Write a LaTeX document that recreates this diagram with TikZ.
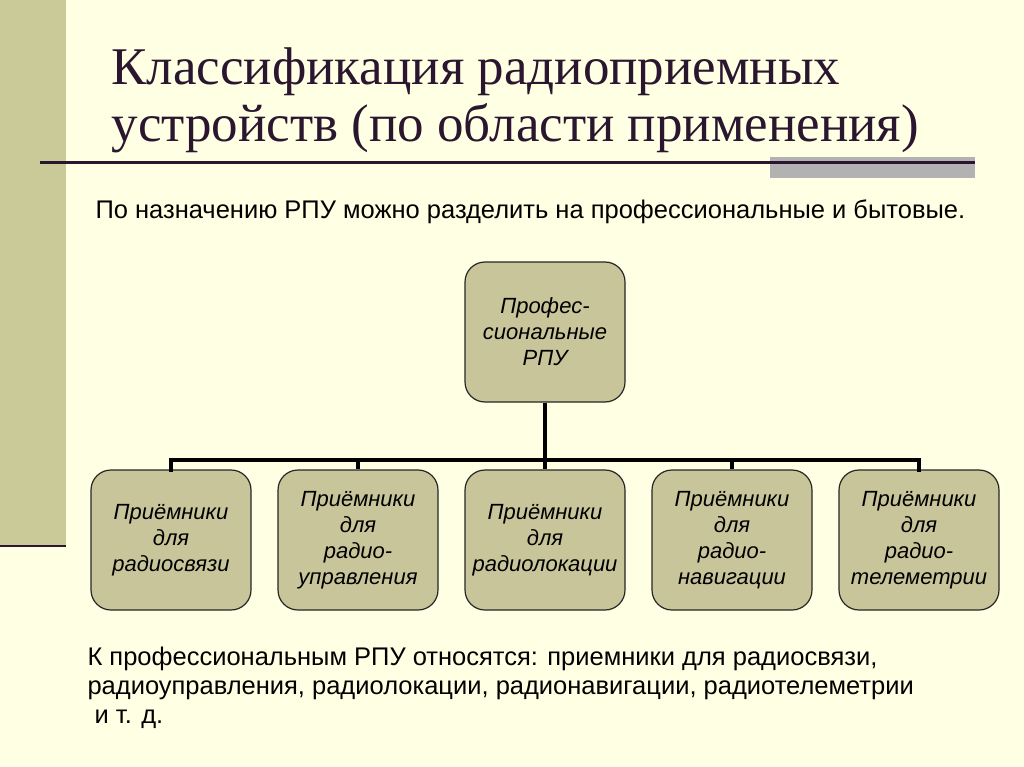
\documentclass[tikz,border=0pt]{standalone}
\usepackage{fontspec}
\setmainfont{Liberation Serif}
\newfontfamily\arial{Liberation Sans}
\begin{document}
\begin{tikzpicture}[x=1pt,y=-1pt,
  box/.style={draw=black!85,line width=1.2pt,fill=boxc,rounded corners=20pt,minimum width=160pt,minimum height=140pt,align=center,font=\arial\itshape\fontsize{22}{26}\selectfont},
  conn/.style={line width=4.5pt}]
\definecolor{bg}{HTML}{FFFFE3}
\definecolor{boxc}{HTML}{C9C59A}
\definecolor{bar}{HTML}{CACA98}
\definecolor{ttl}{HTML}{2B1630}
\useasboundingbox (0,0) rectangle (1024,767);
\fill[bg] (0,0) rectangle (1024,767);
\fill[bar] (0,0) rectangle (66,545);
\draw[ttl,line width=2pt] (0,546) -- (66,546);
\fill[black!30] (770,157) rectangle (975,178);
\draw[ttl,line width=3pt] (40,163) -- (975,163);
\node[anchor=west,align=left,text=ttl,font=\fontsize{53}{57}\selectfont] (title) at (108,100) {Классификация радиоприемных\\устройств (по области применения)};
\node[anchor=west,font=\arial\fontsize{25.5}{29}\selectfont] (intro) at (92,212) {По назначению РПУ можно разделить на профессиональные и бытовые.};
\node[box] (top) at (545,332) {Профес-\\сиональные\\РПУ};
\node[box] (b1) at (171,540) {Приёмники\\для\\радиосвязи};
\node[box] (b2) at (358,540) {Приёмники\\для\\радио-\\управления};
\node[box] (b3) at (545,540) {Приёмники\\для\\радиолокации};
\node[box] (b4) at (732,540) {Приёмники\\для\\радио-\\навигации};
\node[box] (b5) at (919,540) {Приёмники\\для\\радио-\\телеметрии};
\coordinate (bus) at (545,460);
\draw[conn] (top.south) -- (bus);
\draw[conn,line cap=rect] (b1.north) -- (b1.north |- bus) -- (b5.north |- bus) -- (b5.north);
\foreach \b in {b2,b3,b4} \draw[conn] (\b.north |- bus) -- (\b.north);
\node[anchor=north west,align=left,font=\arial\fontsize{25.5}{29}\selectfont] (outro) at (84,643) {К профессиональным РПУ относятся: приемники для радиосвязи,\\радиоуправления, радиолокации, радионавигации, радиотелеметрии\\\ и т. д.};
\end{tikzpicture}
\end{document}
